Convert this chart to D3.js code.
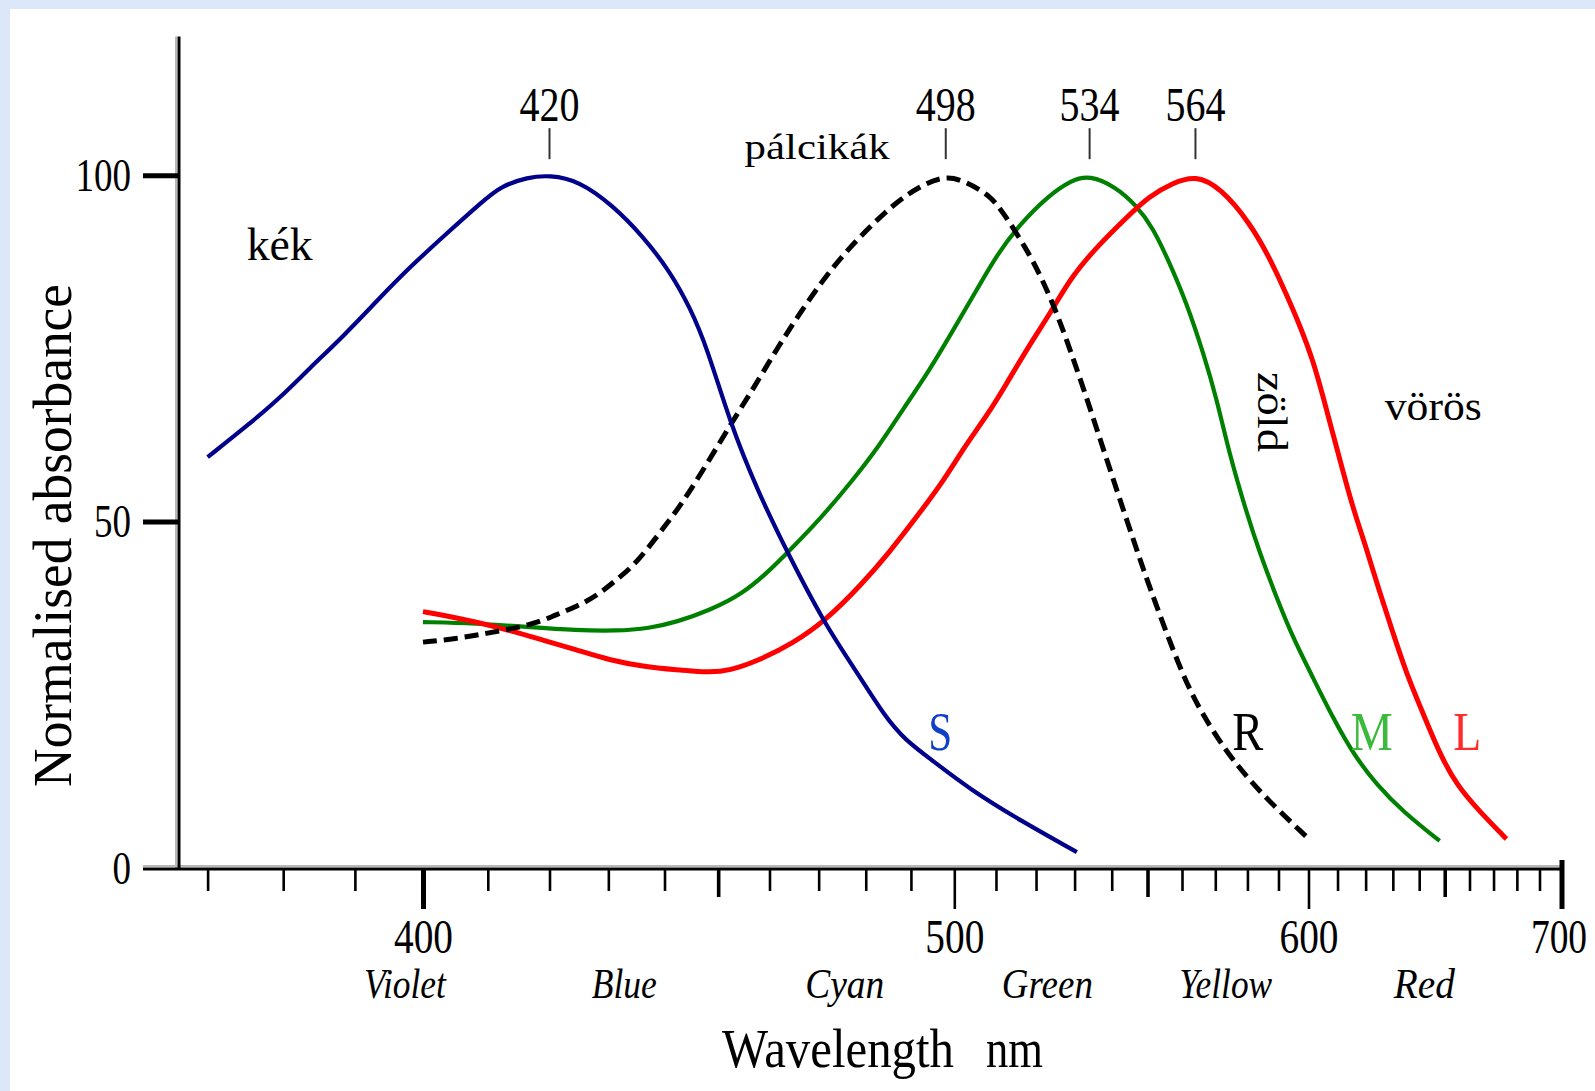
<!DOCTYPE html>
<html>
<head>
<meta charset="utf-8">
<script src="https://cdn.jsdelivr.net/npm/d3@7"></script>
<style>
  html, body { margin: 0; padding: 0; background: #fff; }
  svg { display: block; }
  text { font-family: "Liberation Serif", "Times New Roman", serif; fill: #000; }
</style>
</head>
<body>
<div id="chart"></div>
<script>
// ---------------- DATA (wavelength in nm, normalised absorbance in %) ----------------
const sWavelength = [370, 375.6, 379.7, 383.4, 388.6, 393.5, 398, 403.6, 409.4, 412.1, 416.4, 420, 424.9, 430.7, 436.1, 441, 444.7, 447.9, 452.3, 457.6, 463.6, 471.3, 477, 484.4, 488.9, 494.3, 503.8, 516.2, 530.6];
const sAbsorbance = [59.3, 64.2, 68.0, 71.9, 77.0, 82.2, 86.7, 91.6, 96.4, 98.4, 99.7, 100, 99.2, 95.7, 91.2, 86.1, 80.9, 75.1, 64.2, 54.5, 45.5, 35.2, 29.4, 21.6, 18.4, 15.8, 11.3, 6.8, 2.3];

const rWavelength = [400, 405.1, 409.4, 417.3, 420.9, 424.5, 428.2, 431.7, 435, 440.4, 444.1, 453, 456.9, 461.6, 465.7, 470.6, 474.9, 479.9, 485.9, 491.9, 498, 503, 508.7, 512, 517, 521.3, 525.7, 529.2, 532.8, 536.4, 540.1, 543.9, 547.7, 550.7, 555.4, 560.4, 565.4, 573.2, 580.8, 589.1, 599.1];
const rAbsorbance = [32.6, 33.1, 33.8, 35.1, 36.5, 37.7, 39.4, 41.8, 44.0, 49.7, 53.5, 64.8, 69.3, 75.1, 79.6, 84.6, 88.3, 91.9, 95.7, 98.4, 100, 99.0, 97.0, 94.4, 89.9, 85.4, 79.6, 74.2, 68.5, 62.6, 56.6, 50.6, 44.8, 40.4, 34.0, 27.7, 22.7, 16.9, 12.6, 8.7, 4.6];

const mWavelength = [400, 408.2, 416.2, 424.5, 431.4, 437.3, 442.2, 448.4, 454.8, 460.1, 463.6, 470.6, 477, 482.9, 488.1, 494.3, 499.8, 505.4, 510.3, 516.2, 523.1, 529.2, 534, 541.1, 546.7, 551.5, 556.4, 561.4, 566.4, 570.5, 574.2, 579.7, 583.9, 589.4, 594.8, 601.6, 608.5, 615.5, 624, 633.9, 648];
const mAbsorbance = [35.5, 35.3, 34.8, 34.3, 34.2, 34.6, 35.5, 37.2, 39.6, 43.0, 45.5, 50.6, 55.8, 60.9, 66.1, 71.9, 77.7, 83.5, 88.6, 93.1, 97.0, 99.3, 100, 98.3, 95.7, 92.5, 87.3, 81.5, 74.3, 67.6, 60.0, 51.3, 45.5, 39.0, 33.2, 27.4, 21.6, 16.5, 12.0, 8.1, 3.9];

const lWavelength = [400, 403.1, 408.2, 413.5, 418.9, 424.5, 430.2, 436.1, 442.2, 448.4, 452.2, 457.4, 464.7, 471.6, 479.2, 485.1, 491.2, 497.4, 502.2, 507.9, 512, 517.9, 523.9, 529.2, 536.4, 543.9, 550.5, 557.4, 564, 571.6, 580.8, 587.2, 592.6, 597.1, 601.6, 605, 608.5, 612, 615.5, 620.3, 625.2, 630.1, 635.1, 641.5, 648, 654.7, 664.3, 675.5];
const lAbsorbance = [37.0, 36.5, 35.5, 34.3, 32.9, 31.5, 30.0, 29.1, 28.6, 28.2, 28.5, 29.8, 32.4, 35.8, 41.0, 45.5, 50.6, 55.8, 60.6, 65.4, 69.3, 75.1, 80.3, 85.4, 89.9, 93.8, 97.0, 98.9, 100, 98.2, 93.1, 88.0, 82.8, 78.3, 73.2, 68.0, 62.5, 57.1, 51.9, 46.1, 39.7, 33.9, 28.1, 22.3, 16.5, 12.0, 8.1, 4.2];

const seriesNames  = ["S", "R", "M", "L"];
const seriesLabelAt = [496.7, 580.1, 622.2, 659.1];   // wavelength where the series letter sits
const seriesLabelValue = 17;

const peakLabels = [420, 498, 534, 564];

const yTicks = [0, 50, 100];
const xMajorTicks = [400, 500, 600, 700];
const xMediumTicks = [450, 550, 650];
const xMinorTicks = [370, 380, 390, 410, 420, 430, 440, 460, 470, 480, 490, 510, 520, 530, 540, 560, 570, 580, 590, 610, 620, 630, 640, 660, 670, 680, 690];

const colourNames = ["Violet", "Blue", "Cyan", "Green", "Yellow", "Red"];
const colourNameAt = [397.3, 432.8, 475.5, 522.9, 573.2, 642.0];

const annotations = ["kék", "pálcikák", "zöld", "vörös"];
const annotationAt = [[375.1, 87.8], [455.1, 102.3], [583.3, 71.6], [627.0, 64.6]];

// ---------------- LAYOUT ----------------
const W = 1595, H = 1091;
const svg = d3.select("#chart").append("svg").attr("width", W).attr("height", H);

svg.append("rect").attr("width", W).attr("height", H).attr("fill", "#dde7fa");
svg.append("rect").attr("x", 10).attr("y", 9).attr("width", W - 10).attr("height", H - 9).attr("fill", "#fff");

// reciprocal (wavenumber) wavelength axis
const xr = d3.scaleLinear().domain([1 / 400, 1 / 700]).range([423, 1561.5]);
const x = l => xr(1 / l);
const y = d3.scaleLinear().domain([0, 120]).range([868, 36.6]);

const axisX0 = 143, axisY0 = y(0) + 1;

// ---------------- AXES ----------------
svg.append("line").attr("x1", axisX0).attr("x2", x(700)).attr("y1", axisY0 - 3).attr("y2", axisY0 - 3)
  .attr("stroke", "#b8b8b8").attr("stroke-width", 2);
svg.append("line").attr("x1", 176).attr("x2", 176).attr("y1", y(120)).attr("y2", axisY0)
  .attr("stroke", "#b8b8b8").attr("stroke-width", 2);

function styleAxis(g) {
  g.select(".domain").remove();
  g.selectAll("text").remove();
}

svg.append("g").attr("transform", `translate(0,${axisY0})`)
  .call(d3.axisBottom(xr).tickValues(xMinorTicks.map(d => 1 / d)).tickSize(22).tickFormat(""))
  .call(styleAxis)
  .selectAll("line").attr("stroke", "#000").attr("stroke-width", 2.6);
svg.append("g").attr("transform", `translate(0,${axisY0})`)
  .call(d3.axisBottom(xr).tickValues(xMediumTicks.map(d => 1 / d)).tickSize(28).tickFormat(""))
  .call(styleAxis)
  .selectAll("line").attr("stroke", "#000").attr("stroke-width", 3.6);
const gMaj = svg.append("g").attr("transform", `translate(0,${axisY0})`)
  .call(d3.axisBottom(xr).tickValues(xMajorTicks.map(d => 1 / d)).tickSize(40).tickPadding(10)
        .tickFormat(d => String(Math.round(1 / d))));
gMaj.select(".domain").remove();
gMaj.selectAll(".tick line").attr("stroke", "#000")
  .attr("stroke-width", d => (Math.round(1 / d) === 400 || Math.round(1 / d) === 700) ? 5 : 2.6)
  .attr("y1", d => Math.round(1 / d) === 700 ? -9 : 0);
gMaj.selectAll(".tick text")
  .attr("font-family", "Liberation Serif").attr("font-size", 48).attr("fill", "#000")
  .attr("dy", null).attr("y", 84)
  .attr("transform", d => Math.round(1 / d) === 700 ? "translate(-3,0) scale(0.78,1)" : "scale(0.82,1)");

svg.append("line").attr("x1", axisX0).attr("x2", x(700)).attr("y1", axisY0).attr("y2", axisY0)
  .attr("stroke", "#000").attr("stroke-width", 3.2);

const gY = svg.append("g").attr("transform", `translate(179,0)`)
  .call(d3.axisLeft(y).tickValues(yTicks).tickSize(36).tickPadding(12).tickFormat(d3.format("d")));
gY.select(".domain").remove();
gY.selectAll(".tick line").attr("stroke", "#000").attr("stroke-width", d => d === 0 ? 0 : 5);
gY.selectAll(".tick text")
  .attr("font-family", "Liberation Serif").attr("font-size", 46).attr("fill", "#000")
  .attr("dy", "0.33em")
  .attr("textLength", d => String(d).length * 18.5).attr("lengthAdjust", "spacingAndGlyphs");
svg.append("line").attr("x1", 179).attr("x2", 179).attr("y1", y(120)).attr("y2", axisY0 + 1)
  .attr("stroke", "#000").attr("stroke-width", 3);

svg.append("g").selectAll("text").data(colourNames).join("text")
  .attr("x", (d, i) => x(colourNameAt[i])).attr("y", 998)
  .attr("text-anchor", "middle").attr("font-style", "italic").attr("font-size", 42)
  .attr("textLength", (d, i) => [82, 65, 79, 91, 93, 61][i]).attr("lengthAdjust", "spacingAndGlyphs")
  .text(d => d);

svg.append("text").attr("x", 722).attr("y", 1067).attr("font-size", 55)
  .attr("textLength", 232).attr("lengthAdjust", "spacingAndGlyphs").text("Wavelength");
svg.append("text").attr("x", 986).attr("y", 1067).attr("font-size", 55)
  .attr("textLength", 57).attr("lengthAdjust", "spacingAndGlyphs").text("nm");
svg.append("text").attr("transform", `translate(71,${y(48)}) rotate(-90)`)
  .attr("text-anchor", "middle").attr("font-size", 55)
  .attr("textLength", 503).attr("lengthAdjust", "spacingAndGlyphs").text("Normalised absorbance");

// ---------------- CURVES ----------------
const series = [
  { name: "S", wl: sWavelength, v: sAbsorbance, color: "#00008b", width: 4.2, dash: null, labelColor: "#1040c8", tl: 24 },
  { name: "R", wl: rWavelength, v: rAbsorbance, color: "#000000", width: 5, dash: "14,7", labelColor: "#000", tl: 31 },
  { name: "M", wl: mWavelength, v: mAbsorbance, color: "#008000", width: 4.2, dash: null, labelColor: "#3cba3c", tl: 42 },
  { name: "L", wl: lWavelength, v: lAbsorbance, color: "#ff0000", width: 5, dash: null, labelColor: "#ff2a2a", tl: 28 }
];

const line = d3.line().x(d => x(d[0])).y(d => y(d[1])).curve(d3.curveBasis);

const gc = svg.append("g");
["M", "L", "R", "S"].forEach(n => {
  const s = series.find(t => t.name === n);
  gc.append("path")
    .attr("d", line(s.wl.map((w, i) => [w, s.v[i]])))
    .attr("fill", "none").attr("stroke", s.color).attr("stroke-width", s.width)
    .attr("stroke-dasharray", s.dash).attr("stroke-linejoin", "round");
});

svg.append("g").selectAll("text").data(series).join("text")
  .attr("x", d => x(seriesLabelAt[seriesNames.indexOf(d.name)]))
  .attr("y", y(seriesLabelValue))
  .attr("text-anchor", "middle").attr("font-size", 54)
  .attr("textLength", d => d.tl).attr("lengthAdjust", "spacingAndGlyphs")
  .style("fill", d => d.labelColor)
  .text(d => d.name);

const gp = svg.append("g").selectAll("g").data(peakLabels).join("g")
  .attr("transform", d => `translate(${x(d)},0)`);
gp.append("line").attr("y1", y(100) - 16).attr("y2", y(100) - 47)
  .attr("stroke", "#333").attr("stroke-width", 2);
gp.append("text").attr("y", y(100) - 54).attr("text-anchor", "middle").attr("font-size", 48)
  .attr("textLength", 60).attr("lengthAdjust", "spacingAndGlyphs").text(d => d);

svg.append("text").attr("x", x(annotationAt[0][0])).attr("y", y(annotationAt[0][1]))
  .attr("font-size", 47).attr("textLength", 66).attr("lengthAdjust", "spacingAndGlyphs").text(annotations[0]);
svg.append("text").attr("x", x(annotationAt[1][0])).attr("y", y(annotationAt[1][1]))
  .attr("font-size", 36).attr("textLength", 145).attr("lengthAdjust", "spacingAndGlyphs").text(annotations[1]);
svg.append("text").attr("transform", `translate(${x(annotationAt[2][0])},${y(annotationAt[2][1])}) rotate(90)`)
  .attr("font-size", 43).attr("textLength", 80).attr("lengthAdjust", "spacingAndGlyphs").text(annotations[2]);
svg.append("text").attr("x", x(annotationAt[3][0])).attr("y", y(annotationAt[3][1]))
  .attr("font-size", 43).attr("textLength", 97).attr("lengthAdjust", "spacingAndGlyphs").text(annotations[3]);
</script>
</body>
</html>
